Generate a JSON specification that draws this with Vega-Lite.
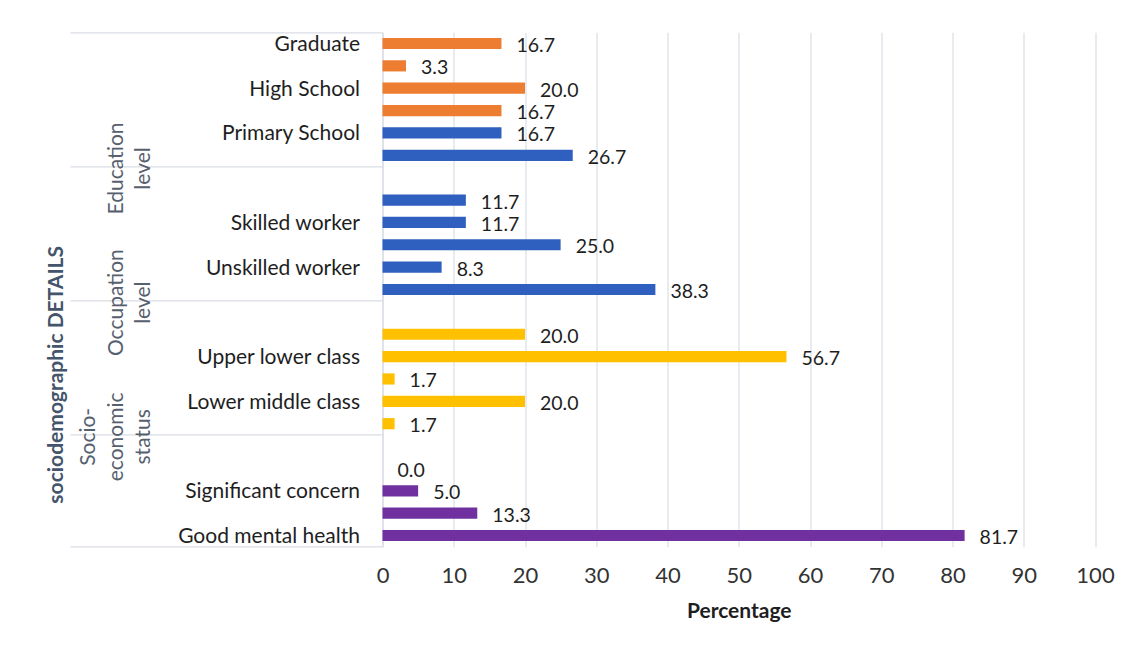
{
  "$schema": "https://vega.github.io/schema/vega-lite/v6.json",
  "autosize": "none",
  "width": 712.5,
  "height": 514.4,
  "padding": {"left": 382.5, "top": 32.3, "right": 35, "bottom": 104.3},
  "background": "white",
  "config": {
    "view": {"stroke": null},
    "font": "Lato",
    "axis": {"labelFont": "Lato", "titleFont": "Lato", "labelLimit": 400}
  },
  "data": {
    "values": [
      {"key": "Graduate", "value": 16.7, "series": "s1"},
      {"key": " ", "value": 3.3, "series": "s1"},
      {"key": "High School", "value": 20.0, "series": "s1"},
      {"key": "  ", "value": 16.7, "series": "s1"},
      {"key": "Primary School", "value": 16.7, "series": "s2"},
      {"key": "   ", "value": 26.7, "series": "s2"},
      {"key": "Education level|", "value": null, "series": "s2"},
      {"key": "    ", "value": 11.7, "series": "s2"},
      {"key": "Skilled worker", "value": 11.7, "series": "s2"},
      {"key": "     ", "value": 25.0, "series": "s2"},
      {"key": "Unskilled worker", "value": 8.3, "series": "s2"},
      {"key": "      ", "value": 38.3, "series": "s2"},
      {"key": "Occupation level|", "value": null, "series": "s3"},
      {"key": "       ", "value": 20.0, "series": "s3"},
      {"key": "Upper lower class", "value": 56.7, "series": "s3"},
      {"key": "        ", "value": 1.7, "series": "s3"},
      {"key": "Lower middle class", "value": 20.0, "series": "s3"},
      {"key": "         ", "value": 1.7, "series": "s3"},
      {"key": "Socio-economic status|", "value": null, "series": "s4"},
      {"key": "          ", "value": 0.0, "series": "s4"},
      {"key": "Significant concern", "value": 5.0, "series": "s4"},
      {"key": "           ", "value": 13.3, "series": "s4"},
      {"key": "Good mental health", "value": 81.7, "series": "s4"}
    ]
  },
  "layer": [
    {
      "mark": {"type": "point", "opacity": 0},
      "encoding": {
        "y": {
          "field": "key", "type": "nominal", "sort": null,
          "scale": {"paddingInner": 0, "paddingOuter": 0},
          "axis": {
            "orient": "left",
            "title": null,
            "domain": false,
            "ticks": true,
            "bandPosition": 0,
            "tickSize": 312.5,
            "tickColor": "#D9DDE4",
            "tickWidth": 1.2,
            "tickOpacity": {"condition": {"test": "indexof(datum.value, '|') >= 0 || datum.index == 0", "value": 1}, "value": 0},
            "labels": true,
            "labelExpr": "indexof(datum.value, '|') >= 0 ? split(replace(replace(datum.value, '|', ''), '-', '- '), ' ') : ''",
            "labelAngle": 270,
            "labelAlign": "center",
            "labelBaseline": "bottom",
            "labelOffset": -9.2,
            "labelPadding": {"condition": {"test": "indexof(datum.value, '-') >= 0", "value": -28.5}, "value": -56},
            "labelFontSize": 21,
            "labelLineHeight": 27.5,
            "labelColor": "#56606E"
          }
        }
      }
    },
    {
      "mark": {"type": "point", "opacity": 0},
      "encoding": {
        "y": {
          "field": "key", "type": "nominal", "sort": null,
          "scale": {"paddingInner": 0, "paddingOuter": 0},
          "axis": {
            "orient": "left",
            "title": null,
            "domain": false,
            "labels": false,
            "ticks": true,
            "bandPosition": 1,
            "tickSize": 312.5,
            "tickColor": "#D9DDE4",
            "tickWidth": 1.2,
            "tickOpacity": {"condition": {"test": "datum.index == 1", "value": 1}, "value": 0}
          }
        }
      }
    },
    {
      "mark": {"type": "bar", "height": {"band": 0.5}, "invalid": "break-paths-show-domains"},
      "encoding": {
        "y": {
          "field": "key", "type": "nominal", "sort": null,
          "scale": {"paddingInner": 0, "paddingOuter": 0},
          "axis": {
            "orient": "left",
            "domain": true,
            "domainColor": "#D9DDE4",
            "domainWidth": 1.2,
            "ticks": false,
            "labelExpr": "indexof(datum.value, '|') >= 0 ? '' : datum.value",
            "labelPadding": 23,
            "labelOffset": 1.5,
            "labelFontSize": 21,
            "labelColor": "#1E1E1E",
            "title": "sociodemographic DETAILS",
            "titleFontSize": 21,
            "titleFontWeight": "bold",
            "titleColor": "#44546A",
            "titleAngle": 270,
            "titleX": -326.5,
            "titleY": 342,
            "titleAlign": "center",
            "titleBaseline": "middle"
          }
        },
        "x": {
          "field": "value", "type": "quantitative",
          "scale": {"domain": [0, 100], "nice": false},
          "axis": {
            "values": [0, 10, 20, 30, 40, 50, 60, 70, 80, 90, 100],
            "domain": false,
            "ticks": false,
            "grid": true,
            "gridColor": "#DCE0E7",
            "gridWidth": 1.3,
            "labelFlush": false,
            "labelFontSize": 22,
            "labelColor": "#333333",
            "labelPadding": 19,
            "title": "Percentage",
            "titleFontSize": 21,
            "titleFontWeight": "bold",
            "titleColor": "#1E1E1E",
            "titleY": 54,
            "titleBaseline": "top"
          }
        },
        "color": {
          "field": "series", "type": "nominal",
          "scale": {"domain": ["s1", "s2", "s3", "s4"], "range": ["#ED7D31", "#2F60C0", "#FFC000", "#7030A0"]},
          "legend": null
        }
      }
    },
    {
      "mark": {"type": "text", "align": "left", "baseline": "middle", "dx": 15, "dy": 2.5, "fontSize": 19.5, "color": "#1E1E1E", "invalid": "break-paths-show-domains"},
      "encoding": {
        "y": {
          "field": "key", "type": "nominal", "sort": null,
          "scale": {"paddingInner": 0, "paddingOuter": 0},
          "axis": null
        },
        "x": {"field": "value", "type": "quantitative"},
        "text": {"field": "value", "type": "quantitative", "format": ".1f"}
      }
    }
  ],
  "resolve": {"axis": {"y": "independent"}}
}
